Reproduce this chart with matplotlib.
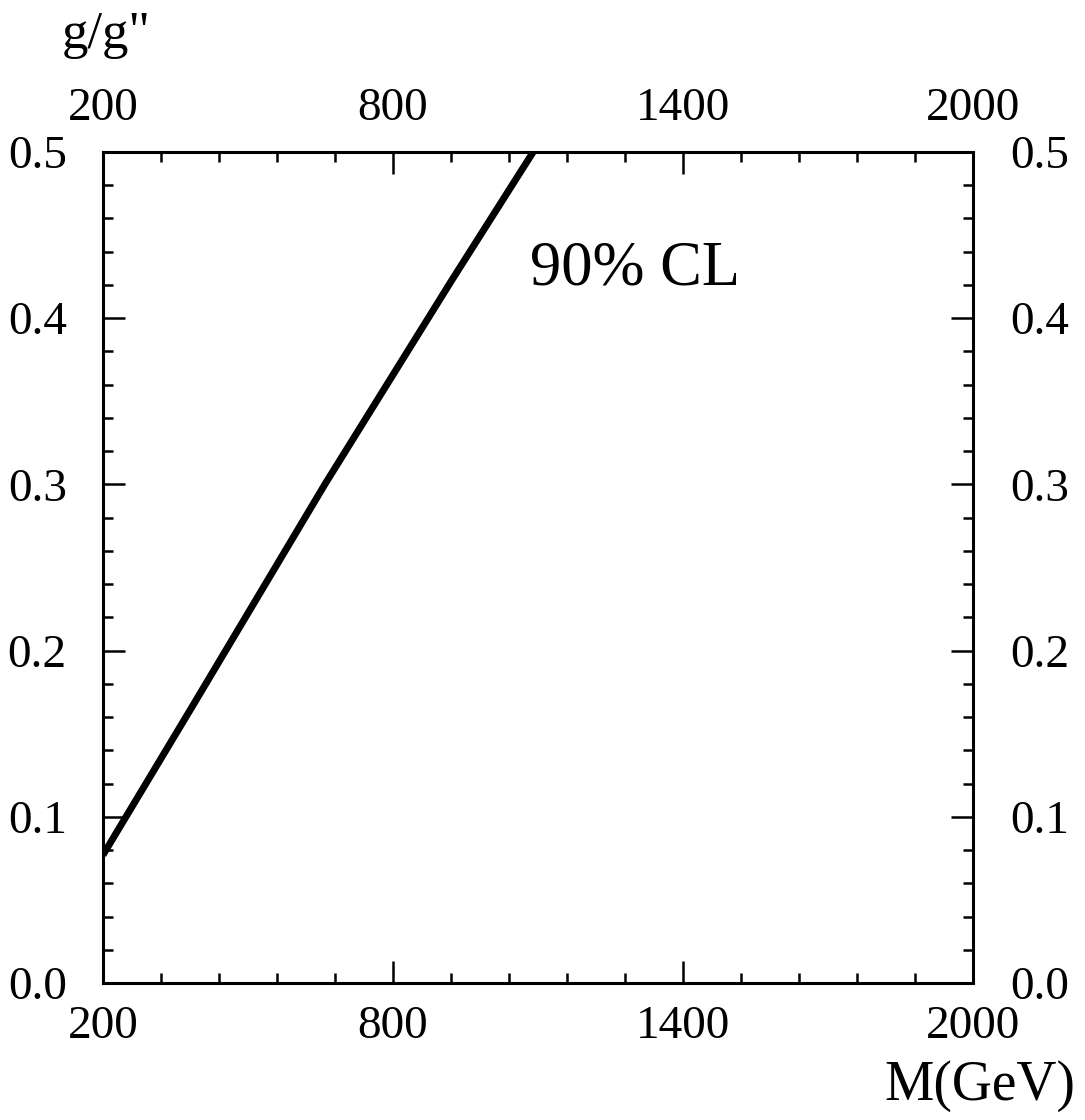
import numpy as np
import matplotlib.pyplot as plt
from matplotlib.ticker import MultipleLocator, FixedLocator

# 90% CL exclusion contour in the (M, g/g'') plane
mass = [200, 384, 659, 922, 1090]
coupling = [0.077, 0.166, 0.300, 0.423, 0.500]

x_major = [200, 800, 1400, 2000]
y_major = [0.0, 0.1, 0.2, 0.3, 0.4, 0.5]

plt.rcParams['font.family'] = ['Liberation Serif', 'DejaVu Serif']

fig = plt.figure(figsize=(10.85, 11.2), dpi=100)
ax = fig.add_axes([0.0949, 0.1223, 0.8019, 0.7420])

ax.plot(mass, coupling, color='black', linewidth=5.0, solid_capstyle='butt',
        solid_joinstyle='round')

ax.set_xlim(200, 2000)
ax.set_ylim(0.0, 0.5)

ax.xaxis.set_major_locator(FixedLocator(x_major))
ax.xaxis.set_minor_locator(MultipleLocator(120, offset=200))
ax.yaxis.set_major_locator(FixedLocator(y_major))
ax.yaxis.set_minor_locator(MultipleLocator(0.02))
ax.set_xticklabels([str(v) for v in x_major])
ax.set_yticklabels([f"{v:.1f}" for v in y_major])

for s in ax.spines.values():
    s.set_linewidth(2.2)

ax.tick_params(which='both', direction='in', top=True, right=True, width=1.8, labelsize=34)
ax.tick_params(which='major', length=16)
ax.tick_params(which='minor', length=7)
ax.tick_params(axis='x', pad=16, labeltop=True)
ax.tick_params(axis='y', pad=26, labelright=False)

# right-hand labels sit a bit closer to the frame
sec = ax.secondary_yaxis('right')
sec.yaxis.set_major_locator(FixedLocator(y_major))
sec.set_yticklabels([f"{v:.1f}" for v in y_major])
sec.tick_params(which='both', length=0, labelsize=34, pad=27)
sec.spines['right'].set_visible(False)

ax.text(1083, 0.42, "90% CL", fontsize=45)
fig.text(0.057, 0.957, 'g/g"', fontsize=38)
fig.text(0.991, 0.018, "M(GeV)", fontsize=40, ha='right')

fig.savefig("out.png", dpi=100)
